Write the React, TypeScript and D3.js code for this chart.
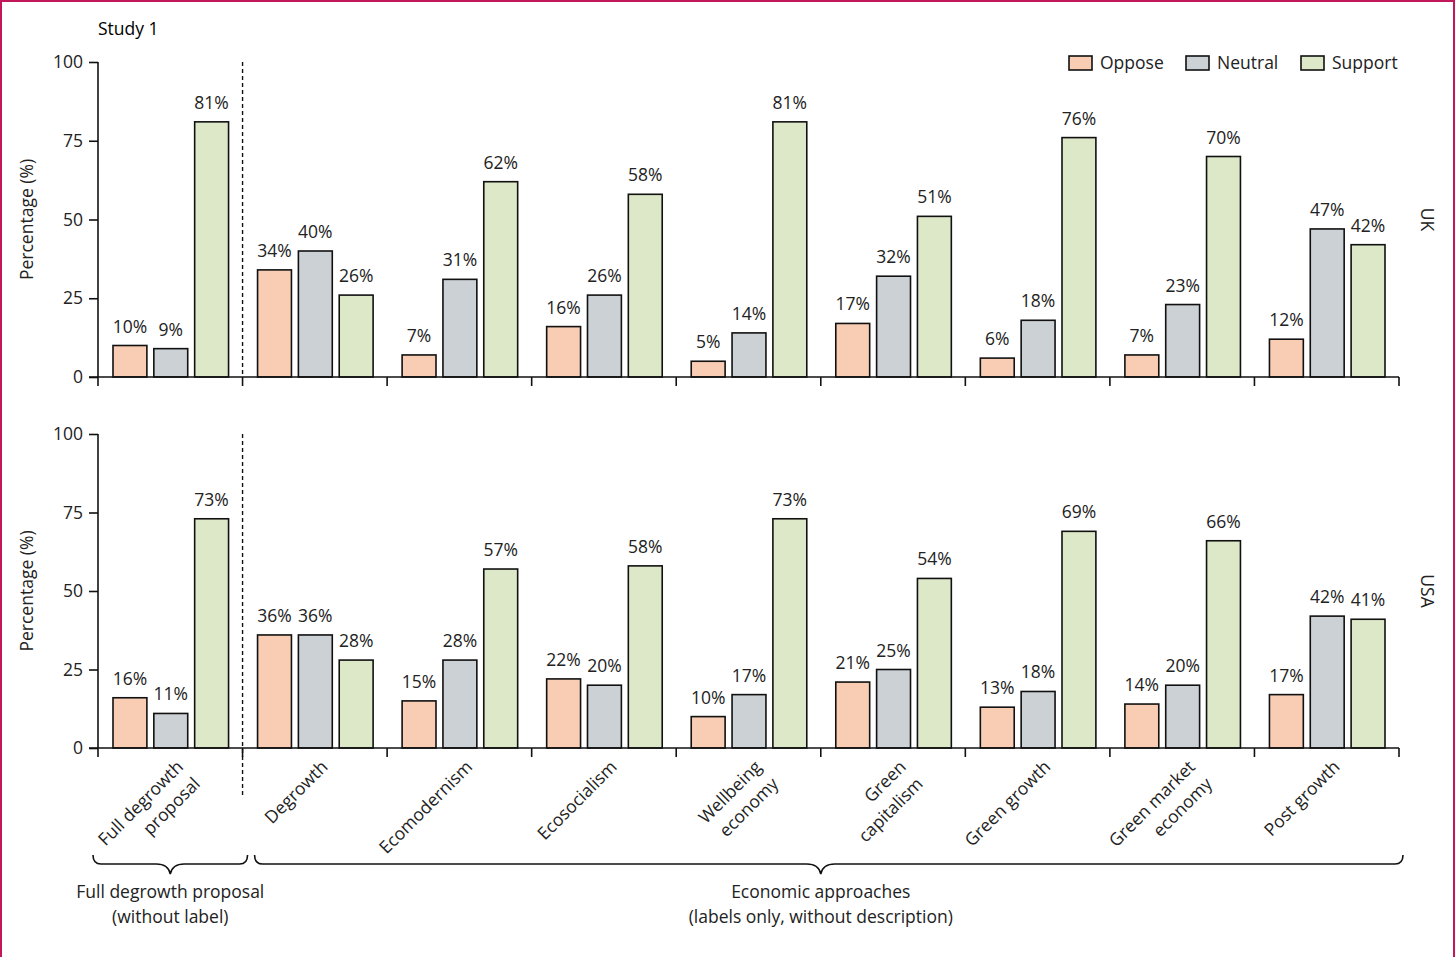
import React, { useEffect, useRef } from "react";
import * as d3 from "d3";

const categories = [
  "Full degrowth proposal",
  "Degrowth",
  "Ecomodernism",
  "Ecosocialism",
  "Wellbeing economy",
  "Green capitalism",
  "Green growth",
  "Green market economy",
  "Post growth",
];
const categoryLines = [
  ["Full degrowth", "proposal"],
  ["Degrowth"],
  ["Ecomodernism"],
  ["Ecosocialism"],
  ["Wellbeing", "economy"],
  ["Green", "capitalism"],
  ["Green growth"],
  ["Green market", "economy"],
  ["Post growth"],
];
const responses = ["Oppose", "Neutral", "Support"];
const responseColors = ["#f8cdb3", "#ccd1d6", "#dde8c8"];

const ukOppose = [10, 34, 7, 16, 5, 17, 6, 7, 12];
const ukNeutral = [9, 40, 31, 26, 14, 32, 18, 23, 47];
const ukSupport = [81, 26, 62, 58, 81, 51, 76, 70, 42];
const usaOppose = [16, 36, 15, 22, 10, 21, 13, 14, 17];
const usaNeutral = [11, 36, 28, 20, 17, 25, 18, 20, 42];
const usaSupport = [73, 28, 57, 58, 73, 54, 69, 66, 41];
const yTicks = [0, 25, 50, 75, 100];

const panels = [
  { name: "UK", series: [ukOppose, ukNeutral, ukSupport], top: 62, bottom: 377 },
  { name: "USA", series: [usaOppose, usaNeutral, usaSupport], top: 434, bottom: 748 },
];

const FONT = "'Open Sans', sans-serif";

export default function App() {
  const ref = useRef<SVGSVGElement | null>(null);

  useEffect(() => {
    const svg = d3.select(ref.current);
    svg.selectAll("*").remove();

    const W = 1456;
    const H = 957;
    const left = 98;
    const right = 1399;

    svg.append("rect").attr("width", W).attr("height", H).attr("fill", "#fff");

    const x = d3.scaleBand<string>().domain(categories).range([left, right]).padding(0);
    const xs = d3
      .scaleBand<string>()
      .domain(responses)
      .range([15, x.bandwidth() - 14])
      .paddingInner(0.17);

    svg
      .append("text")
      .attr("x", left)
      .attr("y", 35)
      .attr("font-family", FONT)
      .attr("font-size", 17.5)
      .text("Study 1");

    panels.forEach((p, pi) => {
      const y = d3.scaleLinear().domain([0, 100]).range([p.bottom, p.top]);
      const g = svg.append("g");

      // bars
      categories.forEach((c, ci) => {
        responses.forEach((r, ri) => {
          const v = p.series[ri][ci];
          const bx = (x(c) ?? 0) + (xs(r) ?? 0);
          g.append("rect")
            .attr("x", bx)
            .attr("y", y(v))
            .attr("width", xs.bandwidth())
            .attr("height", y(0) - y(v))
            .attr("fill", responseColors[ri])
            .attr("stroke", "#111")
            .attr("stroke-width", 1.6);
          g.append("text")
            .attr("x", bx + xs.bandwidth() / 2)
            .attr("y", y(v) - 13)
            .attr("text-anchor", "middle")
            .attr("font-family", FONT)
            .attr("font-size", 17.5)
            .attr("fill", "#222")
            .text(`${v}%`);
        });
      });

      // y axis
      const ya = g
        .append("g")
        .attr("transform", `translate(${left},0)`)
        .call(d3.axisLeft(y).tickValues(yTicks).tickSize(9).tickPadding(6));
      ya.select(".domain").remove();
      ya.selectAll("line").attr("stroke", "#111").attr("stroke-width", 1.6);
      ya.selectAll("text").attr("font-family", FONT).attr("font-size", 17.5).attr("fill", "#222");
      g.append("line")
        .attr("x1", left)
        .attr("x2", left)
        .attr("y1", p.top)
        .attr("y2", p.bottom + 9)
        .attr("stroke", "#111")
        .attr("stroke-width", 1.6);

      // x axis
      g.append("line")
        .attr("x1", left - 9)
        .attr("x2", right)
        .attr("y1", p.bottom)
        .attr("y2", p.bottom)
        .attr("stroke", "#111")
        .attr("stroke-width", 1.6);
      const bounds = categories.map((c) => x(c) ?? 0).concat([right]);
      bounds.forEach((bx, i) => {
        if (i === 0) return;
        g.append("line")
          .attr("x1", bx)
          .attr("x2", bx)
          .attr("y1", p.bottom)
          .attr("y2", p.bottom + 9)
          .attr("stroke", "#111")
          .attr("stroke-width", 1.6);
      });

      // dashed divider
      const dx = x(categories[1]) ?? 0;
      g.append("line")
        .attr("x1", dx)
        .attr("x2", dx)
        .attr("y1", p.top)
        .attr("y2", pi === 1 ? 795 : p.bottom)
        .attr("stroke", "#111")
        .attr("stroke-width", 1.4)
        .attr("stroke-dasharray", "4,3");

      // y label
      const cy = (p.top + p.bottom) / 2;
      g.append("text")
        .attr("transform", `translate(33,${cy}) rotate(-90)`)
        .attr("text-anchor", "middle")
        .attr("font-family", FONT)
        .attr("font-size", 17.5)
        .attr("fill", "#222")
        .text("Percentage (%)");

      // panel name
      g.append("text")
        .attr("transform", `translate(1421,${cy}) rotate(90)`)
        .attr("text-anchor", "middle")
        .attr("font-family", FONT)
        .attr("font-size", 17.5)
        .attr("fill", "#222")
        .text(p.name);
    });

    // category labels
    const axisY = panels[1].bottom;
    categories.forEach((c, ci) => {
      const cx = (x(c) ?? 0) + x.bandwidth() / 2;
      const t = svg
        .append("text")
        .attr("transform", `translate(${cx + 14},${axisY + 20}) rotate(-45)`)
        .attr("text-anchor", "end")
        .attr("font-family", FONT)
        .attr("font-size", 17.5)
        .attr("fill", "#222");
      categoryLines[ci].forEach((ln, li) => {
        t.append("tspan").attr("x", 0).attr("y", li * 24).text(ln);
      });
    });

    // braces
    const brace = (x0: number, x1: number, tip: number, yb: number) => {
      const p = d3.path();
      p.moveTo(x0, yb - 9);
      p.quadraticCurveTo(x0, yb, x0 + 8, yb);
      p.lineTo(tip - 14, yb);
      p.quadraticCurveTo(tip - 2, yb, tip, yb + 10);
      p.quadraticCurveTo(tip + 2, yb, tip + 14, yb);
      p.lineTo(x1 - 8, yb);
      p.quadraticCurveTo(x1, yb, x1, yb - 9);
      return p.toString();
    };
    const b0 = x(categories[0]) ?? 0;
    const b1 = x(categories[1]) ?? 0;
    const tip1 = (b0 + b1) / 2;
    const tip2 = (b1 + right) / 2;
    [
      [b0 - 5, b1 + 5, tip1],
      [b1 + 12, right + 4, tip2],
    ].forEach(([a, b, t]) => {
      svg
        .append("path")
        .attr("d", brace(a, b, t, 864))
        .attr("fill", "none")
        .attr("stroke", "#111")
        .attr("stroke-width", 1.6);
    });

    const groupText = [
      [tip1, "Full degrowth proposal", "(without label)"],
      [tip2, "Economic approaches", "(labels only, without description)"],
    ] as [number, string, string][];
    groupText.forEach(([gx, l1, l2]) => {
      [l1, l2].forEach((s, i) => {
        svg
          .append("text")
          .attr("x", gx)
          .attr("y", 898 + i * 25)
          .attr("text-anchor", "middle")
          .attr("font-family", FONT)
          .attr("font-size", 17.5)
          .attr("fill", "#222")
          .text(s);
      });
    });

    // legend
    const legX = [1069, 1186, 1301];
    responses.forEach((r, i) => {
      svg
        .append("rect")
        .attr("x", legX[i])
        .attr("y", 56)
        .attr("width", 23)
        .attr("height", 14)
        .attr("fill", responseColors[i])
        .attr("stroke", "#111")
        .attr("stroke-width", 1.6);
      svg
        .append("text")
        .attr("x", legX[i] + 31)
        .attr("y", 69)
        .attr("font-family", FONT)
        .attr("font-size", 17.5)
        .attr("fill", "#222")
        .text(r);
    });

    // frame
    svg
      .append("path")
      .attr("d", `M1,${H} L1,1 L${W - 2},1 L${W - 2},${H}`)
      .attr("fill", "none")
      .attr("stroke", "#c2185b")
      .attr("stroke-width", 2);
  }, []);

  return (
    <svg
      ref={ref}
      width={1456}
      height={957}
      style={{ position: "absolute", left: 0, top: 0, display: "block" }}
    />
  );
}
